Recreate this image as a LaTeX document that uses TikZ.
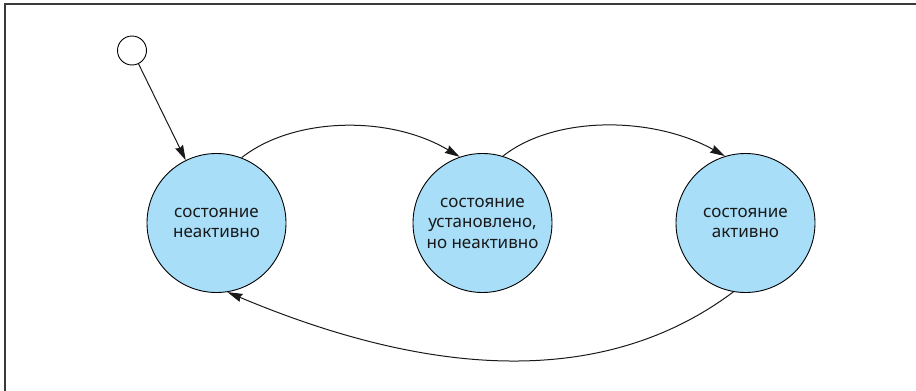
\documentclass[tikz,border=0pt]{standalone}
\usepackage{fontspec}
\setmainfont{Noto Sans}
\usetikzlibrary{arrows.meta}
\definecolor{stfill}{HTML}{A8DEF8}
\definecolor{framecol}{HTML}{3A3A3A}
\tikzset{
  state/.style={circle, draw=black, line width=0.9pt, fill=stfill, minimum size=139pt, inner sep=0pt, align=center, font=\fontsize{17}{20.5}\selectfont, text=black!90},
  initstate/.style={circle, draw=black, line width=0.9pt, fill=white, minimum size=29pt, inner sep=0pt},
  trans/.style={draw=black!90, line width=1pt, -{Stealth[length=15pt, width=8.5pt, inset=1.5pt]}},
  framestyle/.style={draw=framecol, line width=1.4pt}
}
\begin{document}
\begin{tikzpicture}[x=1pt, y=-1pt]
\useasboundingbox (0,0) rectangle (916,391);
\draw[framestyle] (5,391) -- (5,4) -- (916,4);
\node[initstate] (init) at (132,50.5) {};
\node[state] (s1) at (216.5,223) {состояние\\неактивно};
\node[state] (s2) at (482.5,223) {состояние\\установлено,\\но неактивно};
\node[state] (s3) at (745.5,223) {состояние\\активно};
\draw[trans] (init) -- (s1);
\draw[trans] (s1.69) .. controls +(52,-41) and +(-70,-42) .. (s2.109);
\draw[trans] (s2.73) .. controls +(52,-41) and +(-72,-40) .. (s3.107);
\draw[trans] (s3.260) .. controls +(-136,102) and +(190,80) .. (s1.279);
\end{tikzpicture}
\end{document}
